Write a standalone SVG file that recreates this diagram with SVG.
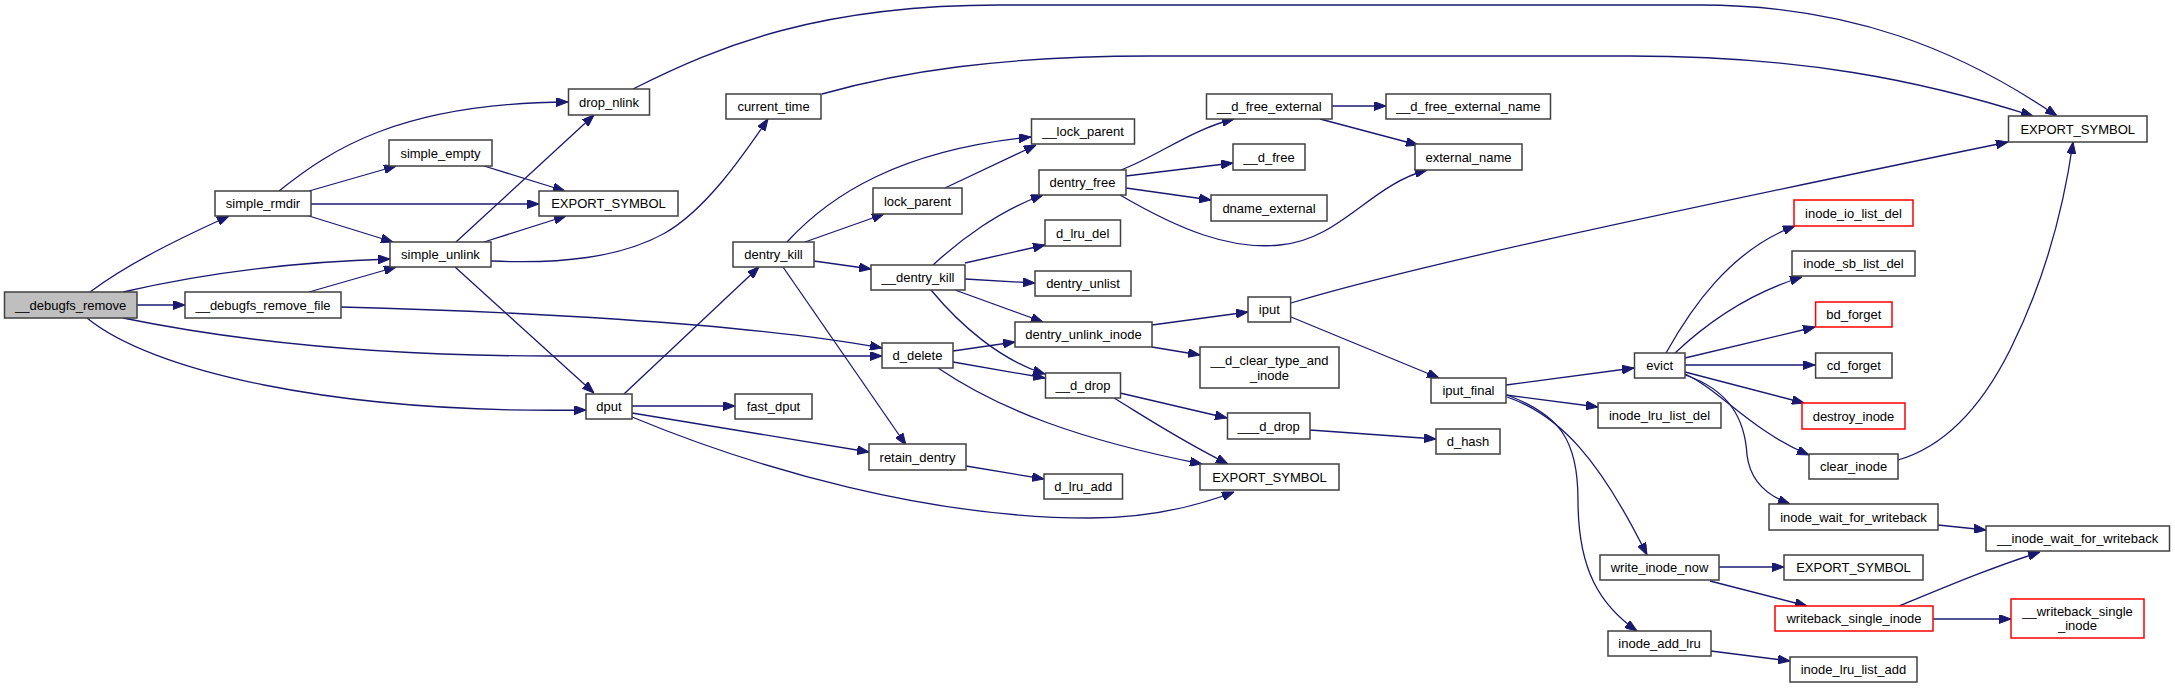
<svg xmlns="http://www.w3.org/2000/svg" width="2175" height="688" viewBox="0 0 2175 688">
<style>
.n rect{fill:#fff;stroke:#404040;stroke-width:1.5}
.r rect{fill:#fff;stroke:#ff0000;stroke-width:1.5}
.root rect{fill:#bfbfbf;stroke:#404040;stroke-width:1.5}
text{font-family:"Liberation Sans",Arial,Helvetica,sans-serif;font-size:13px;text-anchor:middle;fill:#000}
#edges path{fill:none;stroke:#191970;stroke-width:1.3;marker-end:url(#ah)}
</style>
<defs>
<marker id="ah" markerWidth="12" markerHeight="9" refX="12" refY="4.5" orient="auto" markerUnits="userSpaceOnUse">
<path d="M0,0 L12,4.5 L0,9 z" fill="#191970" stroke="#191970" stroke-width="1"/>
</marker>
</defs>
<rect x="0" y="0" width="2175" height="688" fill="#fff"/>
<g id="edges">
<path d="M90,292 C130,262 185,236 229,216"/>
<path d="M123,292 C200,274 290,262 390,259"/>
<path d="M137,305 L185,305"/>
<path d="M123,318 C240,342 380,356 550,356 L882,356"/>
<path d="M87,318 C150,370 330,414 586,410"/>
<path d="M309,292 L396,267"/>
<path d="M341,307 C500,311 740,322 882,348"/>
<path d="M279,191 C330,150 400,103 568,102"/>
<path d="M309,191 L396,166"/>
<path d="M311,204 L539,204"/>
<path d="M309,216 L393,242"/>
<path d="M484,166 L565,191"/>
<path d="M456,242 L594,115"/>
<path d="M484,242 L566,216"/>
<path d="M491,261 C560,264 620,258 665,233 C705,210 740,160 768,119"/>
<path d="M455,267 L594,393"/>
<path d="M633,89 C720,45 820,5 1000,5 L1700,5 C1850,5 1960,50 2057,116"/>
<path d="M822,94 C900,72 1000,56 1150,56 L1630,56 C1800,56 1920,80 2033,116"/>
<path d="M624,394 L759,267"/>
<path d="M632,406 L735,406"/>
<path d="M632,413 L869,452"/>
<path d="M632,417 C760,470 930,518 1090,518 C1150,518 1200,505 1234,492"/>
<path d="M787,242 C830,195 900,150 1031,137"/>
<path d="M805,242 L884,214"/>
<path d="M814,261 L871,269"/>
<path d="M783,267 L906,445"/>
<path d="M966,466 L1044,479"/>
<path d="M945,188 L1036,145"/>
<path d="M933,265 C960,240 1000,210 1043,195"/>
<path d="M965,263 L1045,245"/>
<path d="M965,279 L1035,283"/>
<path d="M955,290 L1043,322"/>
<path d="M931,290 C960,325 1000,360 1045,374"/>
<path d="M953,351 L1015,342"/>
<path d="M953,362 L1045,378"/>
<path d="M938,368 C1000,410 1080,440 1202,464"/>
<path d="M1114,398 C1150,420 1180,440 1228,464"/>
<path d="M1120,393 L1227,418"/>
<path d="M1310,430 L1436,439"/>
<path d="M1152,325 L1248,312"/>
<path d="M1152,347 L1200,355"/>
<path d="M1291,303 C1400,270 1600,226 2008,142"/>
<path d="M1291,317 L1439,378"/>
<path d="M1506,385 L1634,368"/>
<path d="M1506,395 L1598,407"/>
<path d="M1507,397 C1560,415 1600,460 1647,555"/>
<path d="M1507,395 C1560,415 1578,440 1578,500 C1578,570 1600,605 1637,631"/>
<path d="M1666,353 C1690,310 1730,250 1795,226"/>
<path d="M1675,353 C1710,320 1750,293 1802,277"/>
<path d="M1685,358 L1815,327"/>
<path d="M1685,365 L1815,365"/>
<path d="M1685,372 L1804,403"/>
<path d="M1685,374 C1720,390 1750,430 1809,455"/>
<path d="M1685,375 C1730,390 1745,420 1747,455 C1750,480 1765,495 1790,504"/>
<path d="M1898,460 C1950,445 1985,400 2010,350 C2040,290 2062,220 2073,142"/>
<path d="M1938,525 L1986,530"/>
<path d="M1719,567 L1784,567"/>
<path d="M1710,581 L1807,606"/>
<path d="M1899,606 C1950,585 1990,568 2040,552"/>
<path d="M1933,619 L2011,619"/>
<path d="M1711,651 L1790,661"/>
<path d="M1332,106 L1386,106"/>
<path d="M1320,119 L1418,145"/>
<path d="M1121,170 C1160,155 1190,130 1234,119"/>
<path d="M1126,176 L1233,163"/>
<path d="M1126,188 L1211,200"/>
<path d="M1120,195 C1180,230 1230,250 1280,245 C1340,240 1370,185 1427,170"/>
</g>
<g id="n0" class="root"><rect x="4.5" y="292" width="132.5" height="26"/><text x="70.7" y="309.5">__debugfs_remove</text></g>
<g id="n1" class="n"><rect x="215" y="191" width="96" height="25"/><text x="263" y="208">simple_rmdir</text></g>
<g id="n2" class="n"><rect x="390" y="242" width="101" height="25"/><text x="440.5" y="259">simple_unlink</text></g>
<g id="n3" class="n"><rect x="185" y="292" width="156" height="26"/><text x="263" y="309.5">__debugfs_remove_file</text></g>
<g id="n4" class="n"><rect x="586" y="394" width="46" height="25"/><text x="609" y="411">dput</text></g>
<g id="n5" class="n"><rect x="882" y="343" width="71" height="25"/><text x="917.5" y="360">d_delete</text></g>
<g id="n6" class="n"><rect x="568.5" y="89" width="81" height="26"/><text x="609" y="106.5">drop_nlink</text></g>
<g id="n7" class="n"><rect x="389" y="140" width="103" height="26"/><text x="440.5" y="157.5">simple_empty</text></g>
<g id="n8" class="n"><rect x="539" y="191" width="139" height="25"/><text x="608.5" y="208">EXPORT_SYMBOL</text></g>
<g id="n9" class="n"><rect x="726" y="94" width="95" height="25"/><text x="773.5" y="111">current_time</text></g>
<g id="n10" class="n"><rect x="2008.5" y="116" width="138.5" height="26"/><text x="2077.7" y="133.5">EXPORT_SYMBOL</text></g>
<g id="n11" class="n"><rect x="733" y="242" width="81" height="25"/><text x="773.5" y="259">dentry_kill</text></g>
<g id="n12" class="n"><rect x="735" y="394" width="77" height="25"/><text x="773.5" y="411">fast_dput</text></g>
<g id="n13" class="n"><rect x="869" y="444" width="97" height="26"/><text x="917.5" y="461.5">retain_dentry</text></g>
<g id="n14" class="n"><rect x="1200" y="464" width="139" height="26"/><text x="1269.5" y="481.5">EXPORT_SYMBOL</text></g>
<g id="n15" class="n"><rect x="1031.5" y="119" width="103" height="25"/><text x="1083" y="136">__lock_parent</text></g>
<g id="n16" class="n"><rect x="873" y="188" width="89" height="26"/><text x="917.5" y="205.5">lock_parent</text></g>
<g id="n17" class="n"><rect x="871" y="265" width="94" height="25"/><text x="918" y="282">__dentry_kill</text></g>
<g id="n18" class="n"><rect x="1039" y="170" width="87" height="25"/><text x="1082.5" y="187">dentry_free</text></g>
<g id="n19" class="n"><rect x="1045" y="220" width="75.5" height="26"/><text x="1082.7" y="237.5">d_lru_del</text></g>
<g id="n20" class="n"><rect x="1035" y="271" width="96" height="25"/><text x="1083" y="288">dentry_unlist</text></g>
<g id="n21" class="n"><rect x="1015" y="322" width="137" height="25"/><text x="1083.5" y="339">dentry_unlink_inode</text></g>
<g id="n22" class="n"><rect x="1045.5" y="373" width="75" height="25"/><text x="1083" y="390">__d_drop</text></g>
<g id="n23" class="n"><rect x="1044" y="474" width="78.5" height="25"/><text x="1083.2" y="491">d_lru_add</text></g>
<g id="n24" class="n"><rect x="1206.5" y="94" width="125.5" height="25"/><text x="1269.2" y="111">__d_free_external</text></g>
<g id="n25" class="n"><rect x="1233" y="144" width="72" height="26"/><text x="1269" y="161.5">__d_free</text></g>
<g id="n26" class="n"><rect x="1211" y="195" width="116" height="26"/><text x="1269" y="212.5">dname_external</text></g>
<g id="n27" class="n"><rect x="1386" y="94" width="164.5" height="25"/><text x="1468.2" y="111">__d_free_external_name</text></g>
<g id="n28" class="n"><rect x="1415" y="144" width="107" height="26"/><text x="1468.5" y="161.5">external_name</text></g>
<g id="n29" class="n"><rect x="1248" y="297" width="42.6" height="25"/><text x="1269.3" y="314">iput</text></g>
<g id="n30" class="n"><rect x="1200" y="347" width="139" height="41"/><text x="1269.5" y="364.5">__d_clear_type_and</text><text x="1269.5" y="379.5">_inode</text></g>
<g id="n31" class="n"><rect x="1431" y="378" width="75" height="25"/><text x="1468.5" y="395">iput_final</text></g>
<g id="n32" class="n"><rect x="1634.5" y="353" width="50.5" height="25"/><text x="1659.7" y="370">evict</text></g>
<g id="n33" class="n"><rect x="1598" y="403" width="123" height="25"/><text x="1659.5" y="420">inode_lru_list_del</text></g>
<g id="n34" class="n"><rect x="1600" y="555" width="119" height="25"/><text x="1659.5" y="572">write_inode_now</text></g>
<g id="n35" class="n"><rect x="1608" y="631" width="103" height="25"/><text x="1659.5" y="648">inode_add_lru</text></g>
<g id="n36" class="r"><rect x="1794" y="200" width="119" height="26"/><text x="1853.5" y="217.5">inode_io_list_del</text></g>
<g id="n37" class="n"><rect x="1792" y="251" width="123" height="25"/><text x="1853.5" y="268">inode_sb_list_del</text></g>
<g id="n38" class="r"><rect x="1815.6" y="302" width="76.4" height="25"/><text x="1853.8" y="319">bd_forget</text></g>
<g id="n39" class="n"><rect x="1815.6" y="353" width="76.4" height="25"/><text x="1853.8" y="370">cd_forget</text></g>
<g id="n40" class="r"><rect x="1802" y="403" width="103" height="26"/><text x="1853.5" y="420.5">destroy_inode</text></g>
<g id="n41" class="n"><rect x="1809" y="454" width="89" height="25"/><text x="1853.5" y="471">clear_inode</text></g>
<g id="n42" class="n"><rect x="1769" y="504" width="169" height="26"/><text x="1853.5" y="521.5">inode_wait_for_writeback</text></g>
<g id="n43" class="n"><rect x="1986" y="526" width="183.5" height="25"/><text x="2077.7" y="543">__inode_wait_for_writeback</text></g>
<g id="n44" class="n"><rect x="1784" y="555" width="139" height="25"/><text x="1853.5" y="572">EXPORT_SYMBOL</text></g>
<g id="n45" class="r"><rect x="1775" y="606" width="158" height="25"/><text x="1854" y="623">writeback_single_inode</text></g>
<g id="n46" class="r"><rect x="2011" y="599" width="133" height="39"/><text x="2077.5" y="615.5">__writeback_single</text><text x="2077.5" y="629.5">_inode</text></g>
<g id="n47" class="n"><rect x="1790" y="657" width="127" height="25"/><text x="1853.5" y="674">inode_lru_list_add</text></g>
<g id="n48" class="n"><rect x="1227.5" y="413" width="82.5" height="26"/><text x="1268.7" y="430.5">___d_drop</text></g>
<g id="n49" class="n"><rect x="1436" y="429" width="64" height="25"/><text x="1468" y="446">d_hash</text></g>
</svg>
